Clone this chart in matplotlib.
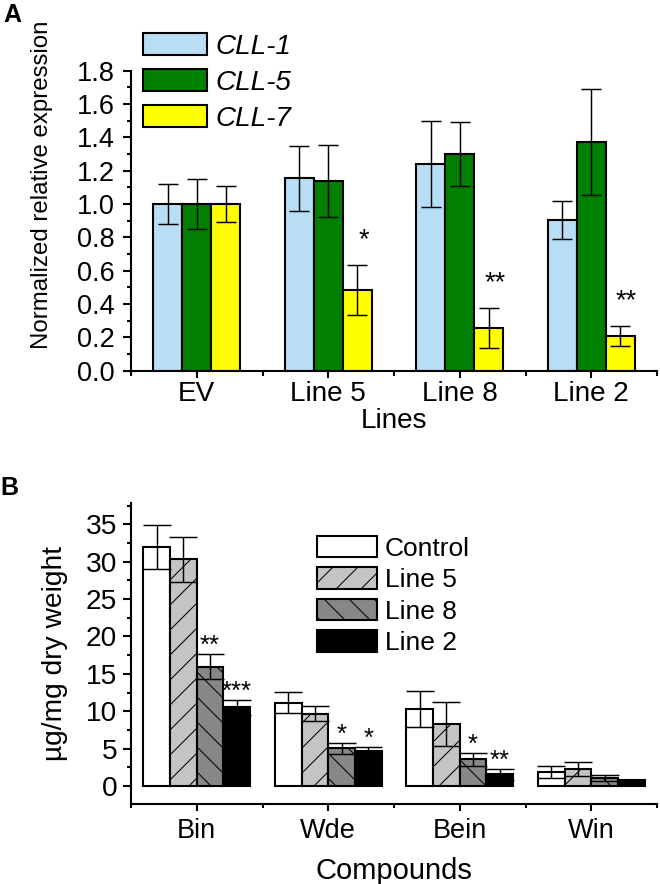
import numpy as np
import matplotlib.pyplot as plt
from matplotlib.ticker import MultipleLocator, FixedLocator

plt.rcParams['font.family'] = ['Liberation Sans', 'DejaVu Sans']
plt.rcParams['hatch.linewidth'] = 0.5

# panel A data
lines_a = ['EV', 'Line 5', 'Line 8', 'Line 2']
genes = ['CLL-1', 'CLL-5', 'CLL-7']
expr = {
    'CLL-1': [1.0, 1.155, 1.24, 0.905],
    'CLL-5': [1.0, 1.138, 1.30, 1.372],
    'CLL-7': [1.0, 0.484, 0.254, 0.208],
}
expr_err = {
    'CLL-1': [0.12, 0.195, 0.26, 0.116],
    'CLL-5': [0.15, 0.214, 0.19, 0.32],
    'CLL-7': [0.11, 0.15, 0.12, 0.062],
}
stars_a = {'CLL-7': ['', '*', '**', '**']}
colors_a = ['#b7def4', '#007f00', '#ffff00']

# panel B data
compounds = ['Bin', 'Wde', 'Bein', 'Win']
groups = ['Control', 'Line 5', 'Line 8', 'Line 2']
content = {
    'Control': [31.96, 11.15, 10.3, 1.83],
    'Line 5': [30.3, 9.63, 8.3, 2.27],
    'Line 8': [15.96, 5.04, 3.57, 1.03],
    'Line 2': [10.5, 4.68, 1.56, 0.8],
}
content_err = {
    'Control': [3.0, 1.45, 2.4, 0.78],
    'Line 5': [3.0, 1.0, 2.9, 0.9],
    'Line 8': [1.65, 0.7, 0.9, 0.38],
    'Line 2': [1.0, 0.5, 0.7, 0.0],
}
stars_b = {
    'Line 8': ['**', '*', '*', ''],
    'Line 2': ['***', '*', '**', ''],
}
colors_b = ['white', '#c4c4c4', '#878787', 'black']
hatches_b = ['', '//', '\\\\', '']

fig = plt.figure(figsize=(4.4, 884 / 150), dpi=150)

# ---------- A ----------
ax = fig.add_axes([131 / 660, 1 - 370.7 / 884, 526 / 660, 300 / 884])
x = np.arange(len(lines_a))
w = 0.22
for i, g in enumerate(genes):
    xs = x + (i - 1) * w
    ax.bar(xs, expr[g], w, color=colors_a[i], edgecolor='black',
           linewidth=1.0, label=g, zorder=2)
    ax.errorbar(xs, expr[g], yerr=expr_err[g], fmt='none', ecolor='black',
                elinewidth=0.7, capsize=4.8, capthick=0.7, zorder=3)
    if g in stars_a:
        for xi, v, e, s in zip(xs, expr[g], expr_err[g], stars_a[g]):
            if s:
                ax.annotate(s, xy=(xi, v + e), xytext=(3, 8.5),
                            textcoords='offset points', ha='center',
                            va='baseline', fontsize=13)

ax.set_xlim(-0.5, 3.5)
ax.set_ylim(0, 1.8)
ax.yaxis.set_major_locator(MultipleLocator(0.2))
ax.yaxis.set_minor_locator(MultipleLocator(0.1))
ax.set_yticklabels([f'{v:.1f}' for v in ax.get_yticks()])
ax.set_xticks(x)
ax.set_xticklabels(lines_a, fontsize=13.4)
ax.xaxis.set_minor_locator(FixedLocator(np.arange(-0.5, 4, 1.0)))
for s in ['top', 'right']:
    ax.spines[s].set_visible(False)
for s in ['left', 'bottom']:
    ax.spines[s].set_linewidth(1.0)
ax.tick_params(axis='y', which='major', direction='out', length=3.8,
               width=1.0, pad=4.0, labelsize=13)
ax.tick_params(axis='y', which='minor', direction='out', length=1.9, width=1.0)
ax.tick_params(axis='x', which='major', direction='out', length=3.4,
               width=1.0, pad=1.5)
ax.tick_params(axis='x', which='minor', direction='out', length=2.4, width=1.0)
ax.set_ylabel('Normalized relative expression', fontsize=11.5)
ax.yaxis.set_label_coords(-0.148, 0.62)
ax.set_xlabel('Lines', fontsize=13.4)
ax.xaxis.set_label_coords(0.5, -0.124)
leg = ax.legend(loc='upper left', bbox_to_anchor=(143 / 660, 1 - 33 / 884),
                bbox_transform=fig.transFigure, frameon=False,
                prop={'size': 13.4, 'style': 'italic'}, borderpad=0,
                borderaxespad=0, handlelength=2.29, handleheight=0.86,
                handletextpad=0.3, labelspacing=0.32)

fig.text(3 / 660, 1 - 22 / 884, 'A', fontsize=12, fontweight='bold',
         va='baseline', ha='left')

# ---------- B ----------
bx = fig.add_axes([131 / 660, 1 - 804.3 / 884, 526 / 660, 301 / 884])
xb = np.arange(len(compounds))
wb = 0.203
for i, g in enumerate(groups):
    xs = xb + (i - 1.5) * wb
    bx.bar(xs, content[g], wb, color=colors_b[i], edgecolor='black',
           linewidth=1.0, hatch=hatches_b[i], label=g, zorder=2)
    bx.errorbar(xs, content[g], yerr=content_err[g], fmt='none',
                ecolor='black', elinewidth=0.7, capsize=6.5, capthick=0.7,
                zorder=3)
    if g in stars_b:
        for xi, v, e, s in zip(xs, content[g], content_err[g], stars_b[g]):
            if s:
                bx.annotate(s, xy=(xi, v + e), xytext=(0, 0.5),
                            textcoords='offset points', ha='center',
                            va='baseline', fontsize=12.5)

bx.set_xlim(-0.5, 3.5)
bx.set_ylim(-2.45, 37.8)
bx.yaxis.set_major_locator(MultipleLocator(5))
bx.yaxis.set_minor_locator(MultipleLocator(2.5))
bx.set_xticks(xb)
bx.set_xticklabels(compounds, fontsize=13)
bx.xaxis.set_minor_locator(FixedLocator(np.arange(-0.5, 4, 1.0)))
for s in ['top', 'right']:
    bx.spines[s].set_visible(False)
for s in ['left', 'bottom']:
    bx.spines[s].set_linewidth(1.0)
bx.tick_params(axis='y', which='major', direction='out', length=3.8,
               width=1.0, pad=2.9, labelsize=13.5)
bx.tick_params(axis='y', which='minor', direction='out', length=1.9, width=1.0)
bx.tick_params(axis='x', which='major', direction='out', length=3.4,
               width=1.0, pad=3.4)
bx.tick_params(axis='x', which='minor', direction='out', length=2.0, width=1.0)
bx.set_ylabel('µg/mg dry weight', fontsize=13.5)
bx.yaxis.set_label_coords(-0.12, 0.5)
bx.set_xlabel('Compounds', fontsize=14)
bx.xaxis.set_label_coords(0.5, -0.175)
bx.legend(loc='upper left', bbox_to_anchor=(317 / 660, 1 - 536 / 884),
          bbox_transform=fig.transFigure, frameon=False,
          prop={'size': 12.7}, borderpad=0, borderaxespad=0,
          handlelength=2.26, handleheight=0.87, handletextpad=0.3,
          labelspacing=0.25)

fig.text(0 / 660, 1 - 495 / 884, 'B', fontsize=12, fontweight='bold',
         va='baseline', ha='left')

fig.savefig('out.png', dpi=150)
